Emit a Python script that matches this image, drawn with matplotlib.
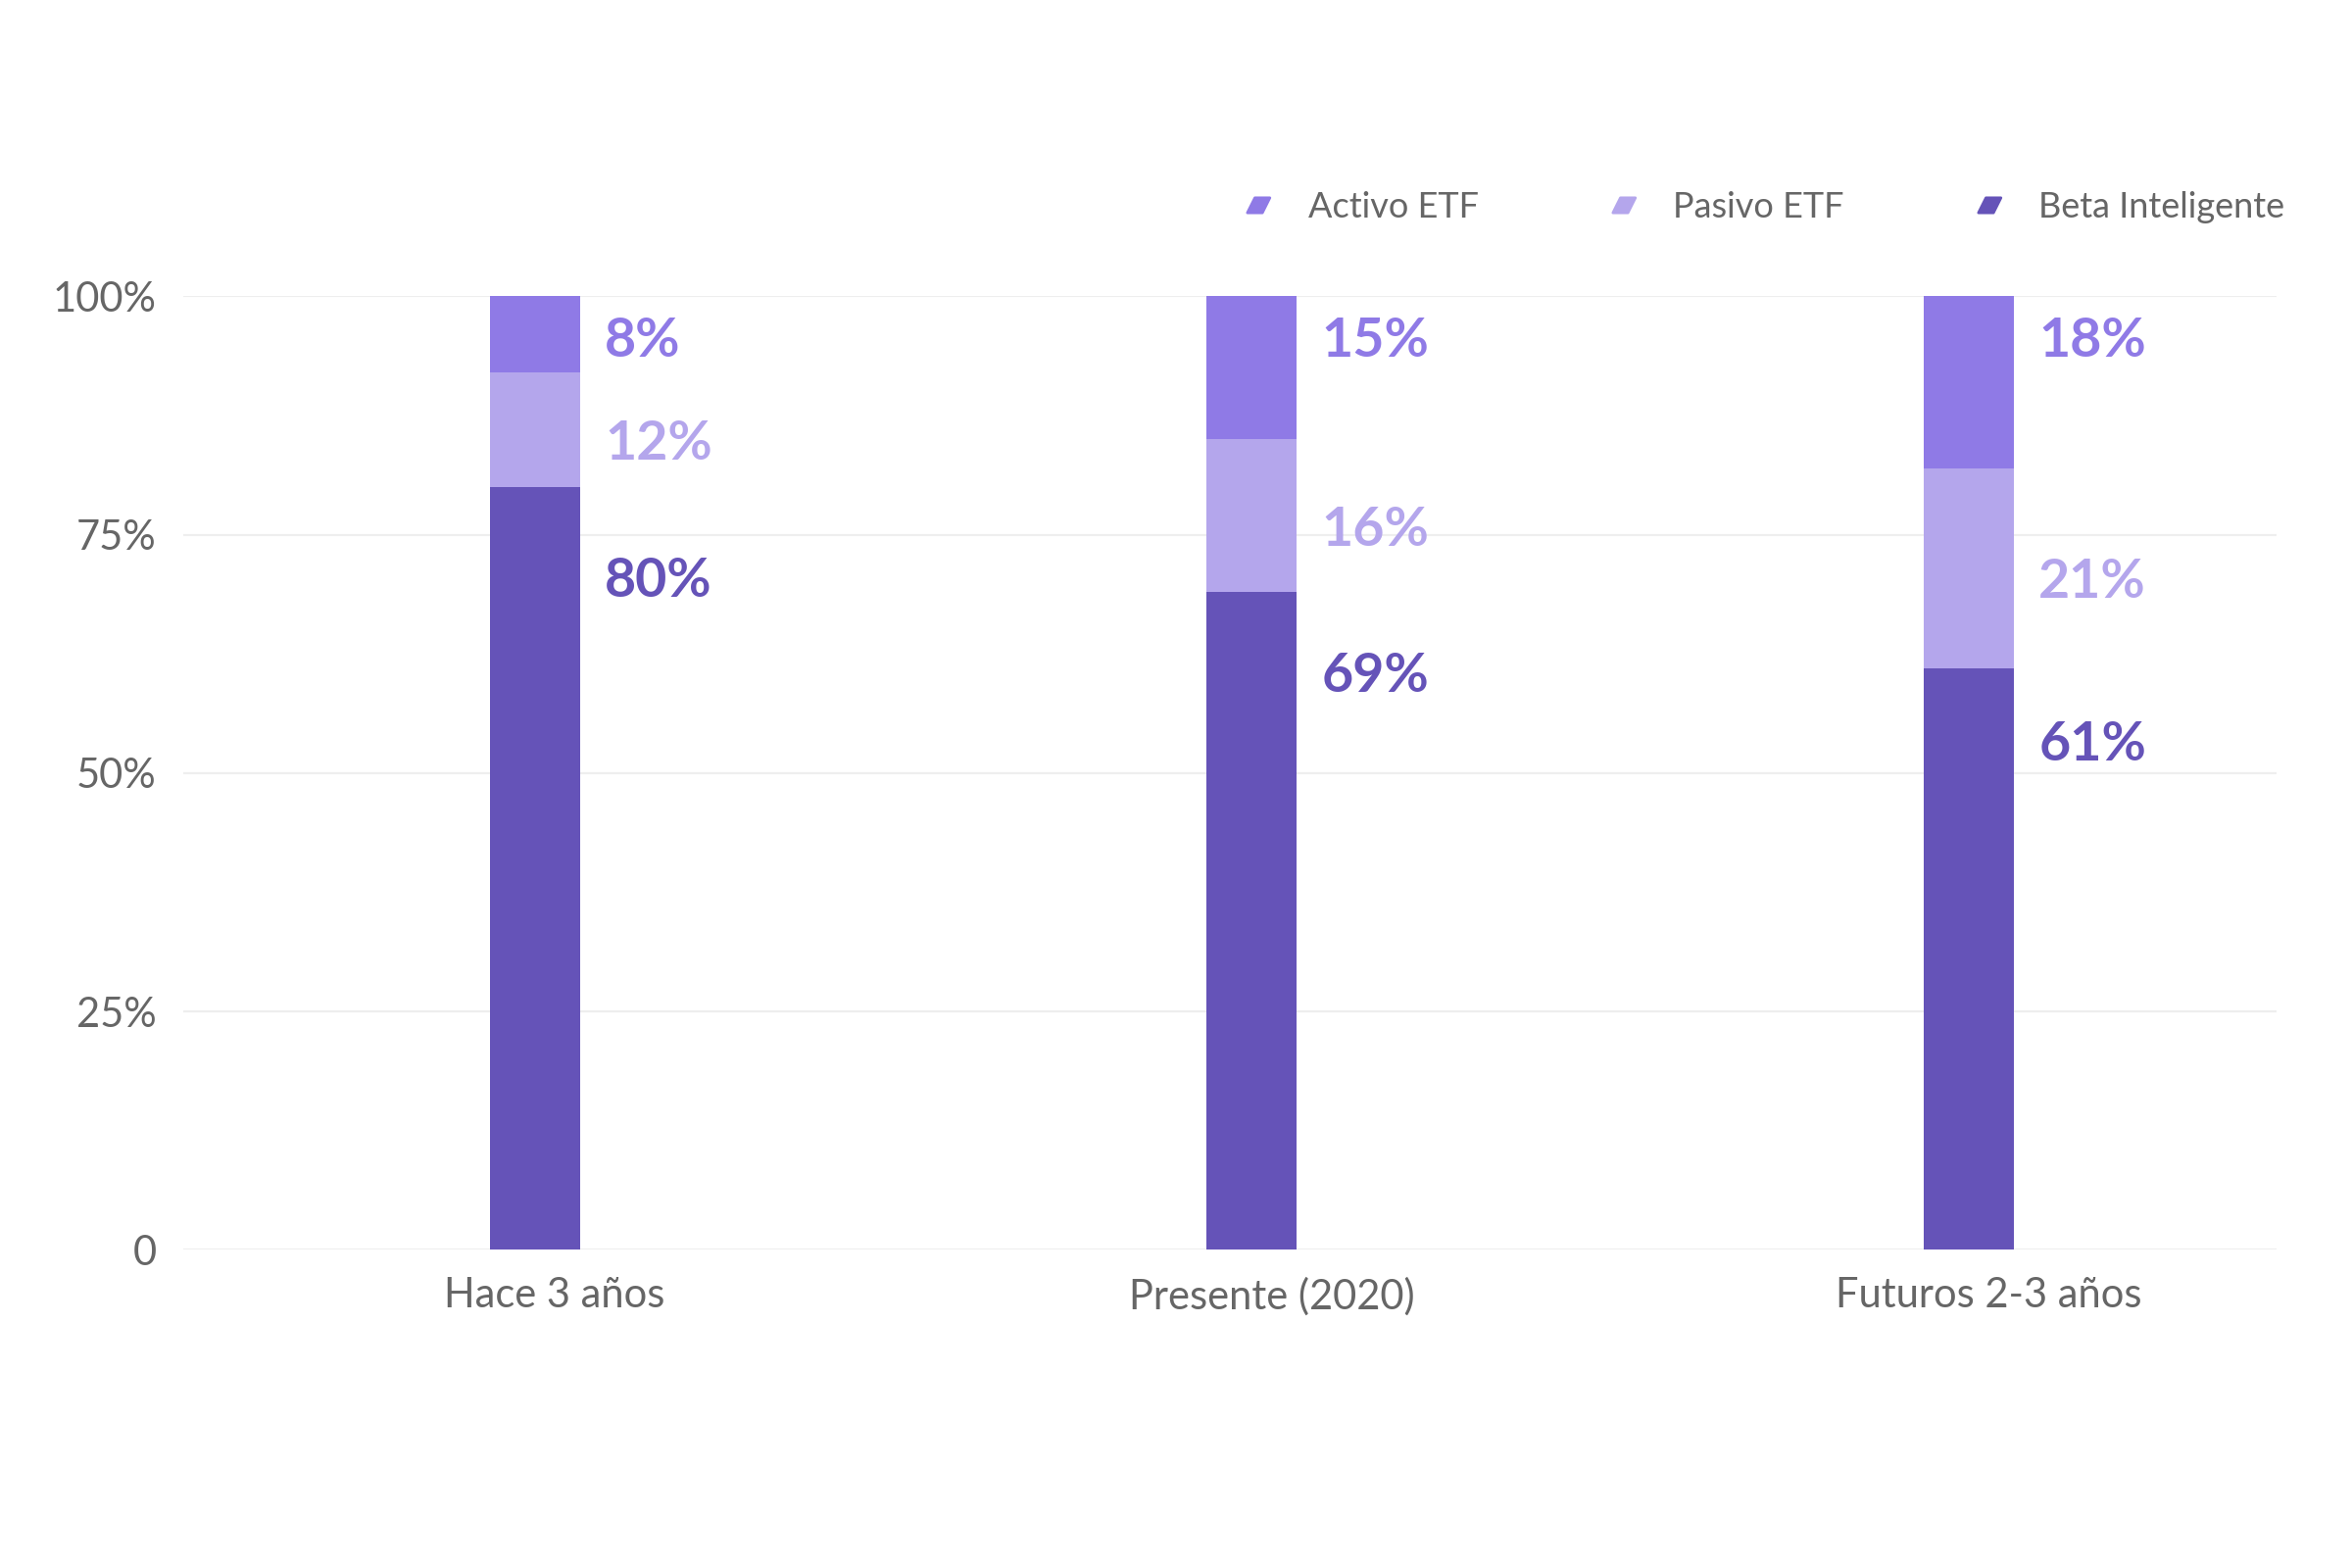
import matplotlib
matplotlib.use("Agg")
import matplotlib.pyplot as plt
from matplotlib.path import Path
from matplotlib.lines import Line2D

categories = ["Hace 3 años", "Presente (2020)", "Futuros 2-3 años"]
beta = [80, 69, 61]
pasivo = [12, 16, 21]
activo = [8, 15, 18]
series_names = ["Activo ETF", "Pasivo ETF", "Beta Inteligente"]
ytick_vals = [0, 25, 50, 75, 100]
ytick_labels = ["0", "25%", "50%", "75%", "100%"]

c_beta, c_pas, c_act = "#6553b8", "#b4a6ec", "#8f7ae6"
plt.rcParams["font.family"] = "Lato"

fig = plt.figure(figsize=(12, 8), dpi=200)
ax = fig.add_axes([0.078, 0.203, 0.89, 0.608])
x = list(range(len(categories)))
w = 0.126
ax.bar(x, beta, w, color=c_beta, zorder=3)
ax.bar(x, pasivo, w, bottom=beta, color=c_pas, zorder=3)
b2 = [b + p for b, p in zip(beta, pasivo)]
ax.bar(x, activo, w, bottom=b2, color=c_act, zorder=3)

for i in x:
    dx = i + w / 2 + 0.035
    ax.text(dx, 95.3, f"{activo[i]}%", color=c_act, fontsize=20, fontweight="bold", va="center")
    ax.text(dx, beta[i] + pasivo[i] / 2 - 1.5, f"{pasivo[i]}%", color=c_pas, fontsize=20, fontweight="bold", va="center")
    ax.text(dx, beta[i] - 8 + (beta[i] - 61) * -0.1 - 0.3 * 0, f"{beta[i]}%", color=c_beta, fontsize=20, fontweight="bold", va="center")

ax.set_xlim(-0.49, 2.43)
ax.set_ylim(0, 100)
ax.set_yticks(ytick_vals)
ax.set_yticklabels(ytick_labels, fontsize=15, color="#666666")
ax.set_xticks([i + 0.028 for i in x])
ax.set_xticklabels(categories, fontsize=15, color="#666666")
ax.tick_params(length=0, pad=10)
ax.yaxis.grid(True, color="#eeeeee", lw=0.8, zorder=0)
for s in ax.spines.values():
    s.set_visible(False)

para = Path([(-0.5, -0.5), (0.5, -0.5), (1.0, 0.5), (0.0, 0.5), (-0.5, -0.5)],
            [Path.MOVETO, Path.LINETO, Path.LINETO, Path.LINETO, Path.CLOSEPOLY])
handles = [Line2D([], [], ls="", marker=para, markersize=11, color=c) for c in (c_act, c_pas, c_beta)]
fig.legend(handles, series_names, loc="center right", bbox_to_anchor=(0.985, 0.868), ncol=3,
           frameon=False, fontsize=13, labelcolor="#666666", columnspacing=3.0, handletextpad=0.5)
fig.savefig("out.png", dpi=200, facecolor="white")
